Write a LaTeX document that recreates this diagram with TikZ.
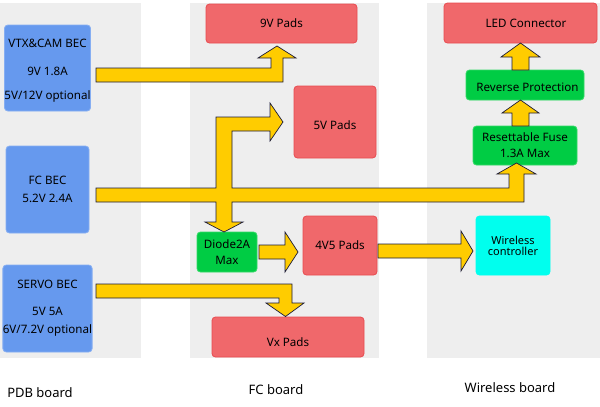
\documentclass[tikz,border=0pt]{standalone}
\usepackage{fontspec}
\setmainfont{Noto Sans}
\definecolor{panelgray}{HTML}{EEEEEE}
\definecolor{bfill}{HTML}{6699EE}
\definecolor{bborder}{HTML}{86AEF2}
\definecolor{rfill}{HTML}{F0686B}
\definecolor{rborder}{HTML}{E84A4F}
\definecolor{gfill}{HTML}{00CC44}
\definecolor{gborder}{HTML}{33DA66}
\definecolor{cfill}{HTML}{00FFEE}
\definecolor{ayellow}{HTML}{FFCC00}
\definecolor{aline}{HTML}{1C1C3A}
\newcommand{\lowerby}[2]{\raisebox{-#1}[\height][\depth]{#2}}
\begin{document}
\begin{tikzpicture}[x=1pt,y=-1pt,
  panel/.style={fill=panelgray, draw=none},
  box/.style={rounded corners=3.5pt, inner sep=0pt, align=center, text=black,
    font=\fontsize{11.6}{14}\selectfont, line width=0.8pt},
  bluebox/.style={box, fill=bfill, draw=bborder},
  redbox/.style={box, fill=rfill, draw=rborder},
  greenbox/.style={box, fill=gfill, draw=gborder},
  cyanbox/.style={box, fill=cfill, draw=cfill},
  boardlabel/.style={font=\fontsize{13}{15}\selectfont, text=black, inner sep=0pt},
  barrow/.style={fill=ayellow, draw=aline, line width=0.7pt, line join=miter}
]
\useasboundingbox (0,0) rectangle (600,407);
% panels
\fill[panel] (0,3) rectangle (141,358);
\fill[panel] (190,3) rectangle (379,358);
\fill[panel] (427,3) rectangle (600,358);

% PDB boxes
\node[bluebox, minimum width=83pt, minimum height=86pt] (vtx) at (47.5,68)
  {\lowerby{3pt}{\begin{tabular}{@{}c@{}}VTX\&CAM BEC\\[14pt]9V 1.8A\\[10pt]5V/12V optional\end{tabular}}};
\node[bluebox, minimum width=83pt, minimum height=87pt] (fcbec) at (47.5,189.5)
  {FC BEC\\[4pt]5.2V 2.4A};
\node[bluebox, minimum width=83pt, minimum height=87pt] (servo) at (47.5,308.5)
  {SERVO BEC\\[13pt]5V 5A\\[4pt]6V/7.2V optional};

% FC boxes
\node[redbox, minimum width=151pt, minimum height=39pt] (p9) at (281.5,23.5) {9V Pads};
\node[redbox, minimum width=82pt, minimum height=72pt] (p5) at (335,122) {\lowerby{3pt}{5V Pads}};
\node[greenbox, minimum width=60pt, minimum height=40pt] (diode) at (227,252)
  {Diode2A\\[2pt]Max};
\node[redbox, minimum width=74pt, minimum height=59pt] (p45) at (340,245.5) {4V5 Pads};
\node[redbox, minimum width=152pt, minimum height=40pt] (vx) at (288,337) {\lowerby{5pt}{Vx Pads}};

% Wireless boxes
\node[redbox, minimum width=153pt, minimum height=40pt] (led) at (520.5,23) {\hspace{11pt}LED Connector};
\node[greenbox, minimum width=118pt, minimum height=30pt] (rev) at (525,85) {\hspace{5pt}\lowerby{2pt}{Reverse Protection}};
\node[greenbox, minimum width=104pt, minimum height=39pt] (fuse) at (525,145.5)
  {Resettable Fuse\\[2pt]1.3A Max};
\node[cyanbox, minimum width=74pt, minimum height=59pt, font=\fontsize{11}{12}\selectfont] (wc) at (513,245.5)
  {Wireless\\[-1pt]controller};

% board labels
\node[boardlabel] (lpdb) at (40,393) {PDB board};
\node[boardlabel] (lfc) at (276,390) {FC board};
\node[boardlabel] (lwl) at (510,388) {Wireless board};

% arrows
% VTX -> 9V Pads
\draw[barrow] (96,68) -- (271,68) -- (271,58) -- (258,58) -- (277,46) -- (296,58)
  -- (283,58) -- (283,82) -- (96,82) -- cycle;
% FC BEC -> 5V Pads, Diode, Fuse
\draw[barrow] (96,188) -- (216,188) -- (216,117) -- (270,117) -- (270,103) -- (283,122)
  -- (270,141) -- (270,131) -- (232,131) -- (232,188) -- (509,188) -- (509,174)
  -- (497,174) -- (516.5,163) -- (536,174) -- (524,174) -- (524,202) -- (232,202)
  -- (232,222) -- (243,222) -- (224,232) -- (205,222) -- (216,222) -- (216,202)
  -- (96,202) -- cycle;
% Diode -> 4V5
\draw[barrow] (259,245) -- (285,245) -- (285,232) -- (298,252) -- (285,272)
  -- (285,259) -- (259,259) -- cycle;
% 4V5 -> Wireless controller
\draw[barrow] (378,244) -- (461,244) -- (461,231) -- (473,251) -- (461,271)
  -- (461,258) -- (378,258) -- cycle;
% Servo -> Vx
\draw[barrow] (96,284) -- (292,284) -- (292,303) -- (304,303) -- (285.5,316.5)
  -- (266,303) -- (279,303) -- (279,298) -- (96,298) -- cycle;
% Fuse -> Reverse
\draw[barrow] (512,126) -- (512,113) -- (502,113) -- (520.5,100) -- (539,113)
  -- (529,113) -- (529,126) -- cycle;
% Reverse -> LED
\draw[barrow] (512,70) -- (512,57) -- (501,57) -- (520.5,43) -- (540,57)
  -- (529,57) -- (529,70) -- cycle;
\end{tikzpicture}
\end{document}
